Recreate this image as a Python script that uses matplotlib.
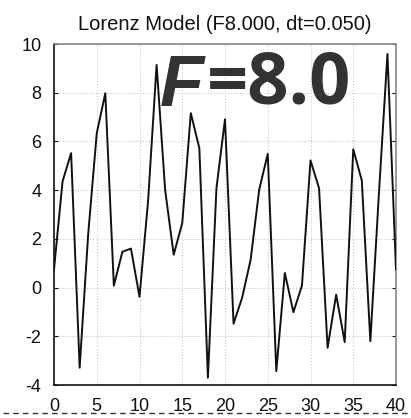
import matplotlib
matplotlib.use("Agg")
import matplotlib.pyplot as plt
from matplotlib.lines import Line2D
import numpy as np

# Data
steps = list(range(41))
values = [0.75, 4.36, 5.52, -3.29, 2.2, 6.34, 7.98, 0.08, 1.47, 1.6,
          -0.38, 3.54, 9.14, 4.0, 1.35, 2.65, 7.16, 5.72, -3.70, 4.08,
          6.91, -1.48, -0.42, 1.15, 4.02, 5.49, -3.43, 0.60, -1.01, 0.08,
          5.22, 4.08, -2.47, -0.29, -2.24, 5.68, 4.4, -2.2, 3.85, 9.59,
          0.74]
x_ticks = [0, 5, 10, 15, 20, 25, 30, 35, 40]
y_ticks = [-4, -2, 0, 2, 4, 6, 8, 10]
title = "Lorenz Model (F8.000, dt=0.050)"

plt.rcParams['font.family'] = ['Liberation Sans', 'DejaVu Sans']

fig = plt.figure(figsize=(4.11, 4.18), dpi=100)
ax = fig.add_axes([0.1314, 0.0789, 0.8321, 0.8158])

ax.plot(steps, values, color='#111111', lw=1.4, zorder=3)

ax.set_xlim(0, 40)
ax.set_ylim(-4, 10)
ax.set_xticks(x_ticks)
ax.set_yticks(y_ticks)
ax.set_xticklabels([str(t) for t in x_ticks])
ax.set_yticklabels([str(t) for t in y_ticks])

ax.grid(True, color='#c8c8c8', linestyle=':', linewidth=0.8, zorder=0)
ax.tick_params(axis='x', length=0, pad=9, labelsize=13, colors='#111111')
ax.tick_params(axis='y', direction='in', length=3, pad=9, labelsize=13,
               right=True, colors='#111111')

ax.spines['left'].set_color('#111111')
ax.spines['bottom'].set_color('#111111')
ax.spines['top'].set_color('#888888')
ax.spines['right'].set_color('#888888')
for s in ax.spines.values():
    s.set_linewidth(1.2)

ax.set_title(title, fontsize=14.5, pad=10, color='#111111')

# Big annotation
t1 = fig.text(160 / 411, 1 - 106 / 418, "F", fontsize=52, fontweight='bold',
              fontstyle='italic', color='#333333', family='Liberation Sans',
              ha='left', va='baseline', zorder=5)
ax.annotate("=8.0", xy=(1, 0), xycoords=t1, xytext=(2, 0),
            textcoords='offset points', fontsize=52, fontweight='bold',
            color='#333333', family='Open Sans', ha='left', va='bottom',
            annotation_clip=False, zorder=5)

# Dashed line below
fig.add_artist(Line2D([3 / 411, 408 / 411], [1 - 413 / 418, 1 - 413 / 418],
                      color='#333333', lw=1.0, linestyle=(0, (4, 3)),
                      transform=fig.transFigure))

fig.savefig("out.png", dpi=100)
